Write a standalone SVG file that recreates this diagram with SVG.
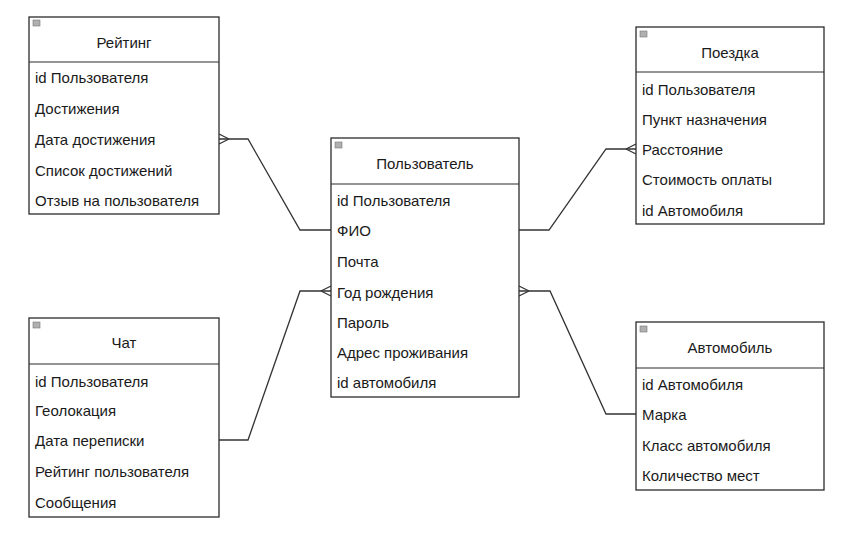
<svg xmlns="http://www.w3.org/2000/svg" width="851" height="541" viewBox="0 0 851 541">
<style>
.box{fill:#fff;stroke:#2b2b2b;stroke-width:1.3}
.div{stroke:#2b2b2b;stroke-width:1}
.ic{fill:#b0b0b0;stroke:#777;stroke-width:0.6}
.t{font-family:"Liberation Sans",Arial,sans-serif;font-size:15px;fill:#1a1a1a;dominant-baseline:central}
.h{text-anchor:middle}
.c{fill:none;stroke:#333;stroke-width:1.3}
</style>
<rect width="851" height="541" fill="#fff"/>
<g id="connectors">
<polyline class="c" points="219,139 248,139 300,230 331,230"/>
<path class="c" d="M229,139 L219,134 M229,139 L219,144"/>
<polyline class="c" points="219,440 248,440 300,291 331,291"/>
<path class="c" d="M321,291 L331,286 M321,291 L331,296"/>
<polyline class="c" points="519,230 549,230 606,149 636,149"/>
<path class="c" d="M626,149 L636,144 M626,149 L636,154"/>
<polyline class="c" points="519,291 550,291 606,414 636,414"/>
<path class="c" d="M529,291 L519,286 M529,291 L519,296"/>
</g>
<g id="rating">
<rect class="box" x="29" y="17" width="190" height="197"/>
<line class="div" x1="29" y1="62" x2="219" y2="62"/>
<rect class="ic" x="33" y="20" width="7" height="6"/>
<text class="t h" x="124" y="42">Рейтинг</text>
<text class="t" x="35" y="77">id Пользователя</text>
<text class="t" x="35" y="108">Достижения</text>
<text class="t" x="35" y="139">Дата достижения</text>
<text class="t" x="35" y="170">Список достижений</text>
<text class="t" x="35" y="200">Отзыв на пользователя</text>
</g>
<g id="user">
<rect class="box" x="331" y="138" width="188" height="259"/>
<line class="div" x1="331" y1="184" x2="519" y2="184"/>
<rect class="ic" x="335" y="142" width="7" height="6"/>
<text class="t h" x="425" y="163">Пользователь</text>
<text class="t" x="337" y="200">id Пользователя</text>
<text class="t" x="337" y="230">ФИО</text>
<text class="t" x="337" y="261">Почта</text>
<text class="t" x="337" y="292">Год рождения</text>
<text class="t" x="337" y="322">Пароль</text>
<text class="t" x="337" y="352">Адрес проживания</text>
<text class="t" x="337" y="382">id автомобиля</text>
</g>
<g id="trip">
<rect class="box" x="636" y="27" width="188" height="197"/>
<line class="div" x1="636" y1="72" x2="824" y2="72"/>
<rect class="ic" x="640" y="31" width="7" height="6"/>
<text class="t h" x="730" y="52">Поездка</text>
<text class="t" x="642" y="89">id Пользователя</text>
<text class="t" x="642" y="119">Пункт назначения</text>
<text class="t" x="642" y="149">Расстояние</text>
<text class="t" x="642" y="179">Стоимость оплаты</text>
<text class="t" x="642" y="210">id Автомобиля</text>
</g>
<g id="chat">
<rect class="box" x="29" y="318" width="190" height="199"/>
<line class="div" x1="29" y1="364" x2="219" y2="364"/>
<rect class="ic" x="33" y="322" width="7" height="6"/>
<text class="t h" x="124" y="342">Чат</text>
<text class="t" x="35" y="381">id Пользователя</text>
<text class="t" x="35" y="410">Геолокация</text>
<text class="t" x="35" y="440">Дата переписки</text>
<text class="t" x="35" y="471">Рейтинг пользователя</text>
<text class="t" x="35" y="502">Сообщения</text>
</g>
<g id="car">
<rect class="box" x="636" y="322" width="188" height="168"/>
<line class="div" x1="636" y1="368" x2="824" y2="368"/>
<rect class="ic" x="640" y="326" width="7" height="6"/>
<text class="t h" x="730" y="347">Автомобиль</text>
<text class="t" x="642" y="384">id Автомобиля</text>
<text class="t" x="642" y="414">Марка</text>
<text class="t" x="642" y="445">Класс автомобиля</text>
<text class="t" x="642" y="475">Количество мест</text>
</g>
</svg>
